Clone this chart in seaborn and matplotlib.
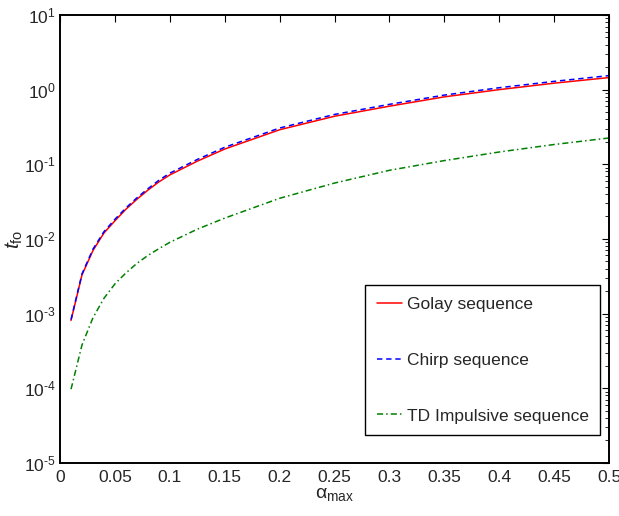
import math
import matplotlib
matplotlib.use('Agg')
import matplotlib.pyplot as plt
import matplotlib.ticker as mticker
import pandas as pd
import seaborn as sns

# values
alpha_max = [0.01, 0.02, 0.03, 0.04, 0.05, 0.06, 0.07, 0.08, 0.09, 0.1,
             0.125, 0.15, 0.2, 0.25, 0.3, 0.35, 0.4, 0.45, 0.5]
golay = [8.1e-4, 3.3e-3, 7.0e-3, 1.2e-2, 1.75e-2, 2.5e-2, 3.4e-2, 4.5e-2, 5.8e-2, 7.2e-2,
         0.11, 0.16, 0.29, 0.44, 0.60, 0.80, 1.0, 1.22, 1.45]
chirp = [8.3e-4, 3.4e-3, 7.3e-3, 1.25e-2, 1.83e-2, 2.6e-2, 3.55e-2, 4.7e-2, 6.1e-2, 7.6e-2,
         0.116, 0.169, 0.306, 0.465, 0.635, 0.845, 1.06, 1.29, 1.54]
td_impulsive = [9.7e-5, 3.8e-4, 8.8e-4, 1.6e-3, 2.5e-3, 3.5e-3, 4.7e-3, 6.0e-3, 7.4e-3, 9.0e-3,
                1.35e-2, 1.9e-2, 3.5e-2, 5.6e-2, 8.3e-2, 0.112, 0.146, 0.184, 0.225]

series_names = ['Golay sequence', 'Chirp sequence', 'TD Impulsive sequence']
xticks = [0, 0.05, 0.1, 0.15, 0.2, 0.25, 0.3, 0.35, 0.4, 0.45, 0.5]

sns.set_style('white')
plt.rcParams['font.family'] = ['Liberation Sans', 'DejaVu Sans']
plt.rcParams['mathtext.fontset'] = 'custom'
plt.rcParams['mathtext.rm'] = 'Liberation Sans'
plt.rcParams['mathtext.it'] = 'Liberation Sans:italic'
plt.rcParams['mathtext.default'] = 'regular'

fig = plt.figure(figsize=(6.19, 5.16), dpi=100)
ax = fig.add_axes([0.097, 0.103, 0.887, 0.868])

styles = [('#ff0000', '-'), ('#0000ff', (0, (3.5, 2.5))), ('#008000', (0, (4, 2, 1, 2)))]
for name, vals, (col, ls) in zip(series_names, [golay, chirp, td_impulsive], styles):
    df = pd.DataFrame({'alpha': alpha_max, 't': vals})
    sns.lineplot(data=df, x='alpha', y='t', ax=ax, color=col, linestyle=ls,
                 linewidth=1.1, label=name)

ax.set_yscale('log')
ax.set_xlim(0, 0.5)
ax.set_ylim(1e-5, 1e1)
ax.set_xticks(xticks)
ax.xaxis.set_major_formatter(mticker.FuncFormatter(lambda v, p: ('%g' % v)))
ax.yaxis.set_major_locator(mticker.LogLocator(base=10, numticks=10))
ax.yaxis.set_minor_locator(mticker.LogLocator(base=10, subs=range(2, 10), numticks=20))
ax.yaxis.set_major_formatter(mticker.FuncFormatter(
    lambda v, p: r'$10^{\text{%d}}$' % round(math.log10(v))))

ax.tick_params(which='both', direction='in', top=True, right=True, labelsize=12.5, color='black')
ax.tick_params(which='major', length=5, width=0.8, pad=5)
ax.tick_params(axis='y', which='major', pad=3)
ax.tick_params(which='minor', length=3, width=0.6)
ax.tick_params(axis='x', which='minor', top=False, bottom=False)
for sp in ax.spines.values():
    sp.set_linewidth(1.4)
    sp.set_color('black')

ax.set_xlabel(r'$\alpha_{max}$', fontsize=14, labelpad=1)
ax.set_ylabel(r'$\mathit{t}_{fo}$', fontsize=15)
ax.yaxis.set_label_coords(-0.064, 0.5)

leg = ax.legend(loc='lower right', bbox_to_anchor=(0.984, 0.0625), borderaxespad=0,
                fontsize=12.5, labelspacing=2.35, handlelength=1.45,
                handletextpad=0.3, borderpad=0.65, fancybox=False, framealpha=1,
                edgecolor='black')
leg.get_frame().set_linewidth(1.0)

fig.savefig('out.png', dpi=100)
